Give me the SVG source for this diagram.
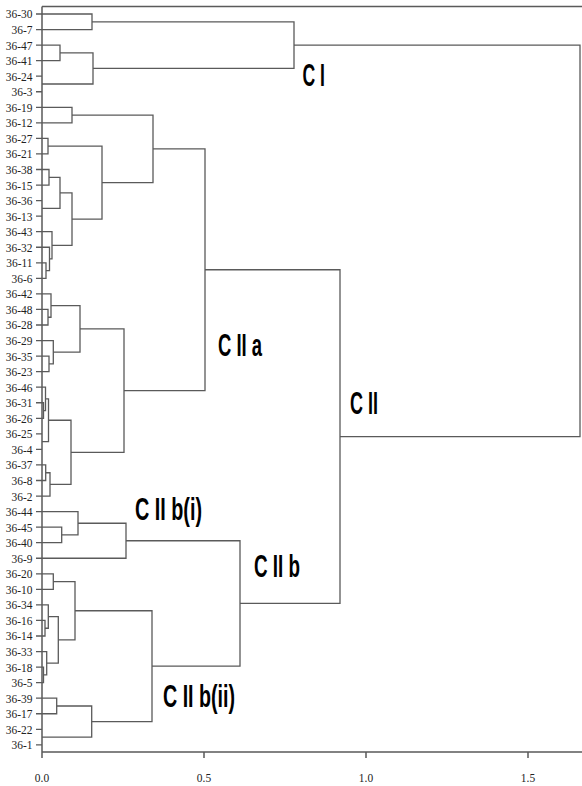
<svg xmlns="http://www.w3.org/2000/svg" width="582" height="786" viewBox="0 0 582 786">
<style>
.bg{fill:#fff}
.ln{fill:none;stroke:#5a5a5a;stroke-width:1.3}
.ax{fill:none;stroke:#5a5a5a;stroke-width:1.5}
.lf{font-family:"Liberation Serif","Times New Roman",serif;font-size:13px;fill:#222;text-anchor:end}
.tk{font-family:"Liberation Serif","Times New Roman",serif;font-size:13px;fill:#222;text-anchor:middle}
.cl{font-family:"Liberation Sans",Arial,sans-serif;font-weight:bold;font-size:31px;fill:#000}
</style>
<rect class="bg" x="0" y="0" width="582" height="786"/>
<g id="frame">
<path class="ax" d="M42 6.5 H582 M42 6.5 V752 M42 752 H582"/>
<path class="ax" d="M42 752 V758 M204 752 V758 M366 752 V758 M528 752 V758"/>
<g transform="translate(42 782) scale(0.88 1)"><text class="tk" x="0" y="0">0.0</text></g>
<g transform="translate(204 782) scale(0.88 1)"><text class="tk" x="0" y="0">0.5</text></g>
<g transform="translate(366 782) scale(0.88 1)"><text class="tk" x="0" y="0">1.0</text></g>
<g transform="translate(528 782) scale(0.88 1)"><text class="tk" x="0" y="0">1.5</text></g>
</g>
<g id="leaf-ticks">
<path class="ln" d="M36 14H42M36 29.55H42M36 45.1H42M36 60.65H42M36 76.2H42M36 91.75H42M36 107.3H42M36 122.85H42M36 138.4H42M36 153.95H42M36 169.5H42M36 185.05H42M36 200.6H42M36 216.15H42M36 231.7H42M36 247.25H42M36 262.8H42M36 278.35H42M36 293.9H42M36 309.45H42M36 325H42M36 340.55H42M36 356.1H42M36 371.65H42M36 387.2H42M36 402.75H42M36 418.3H42M36 433.85H42M36 449.4H42M36 464.95H42M36 480.5H42M36 496.05H42M36 511.6H42M36 527.15H42M36 542.7H42M36 558.25H42M36 573.8H42M36 589.35H42M36 604.9H42M36 620.45H42M36 636H42M36 651.55H42M36 667.1H42M36 682.65H42M36 698.2H42M36 713.75H42M36 729.3H42M36 744.85H42"/>
</g>
<g id="leaves" transform="translate(32.5 0) scale(0.88 1)">
<text id="l36-30" class="lf" x="0" y="18.5">36-30</text>
<text id="l36-7" class="lf" x="0" y="34.05">36-7</text>
<text id="l36-47" class="lf" x="0" y="49.6">36-47</text>
<text id="l36-41" class="lf" x="0" y="65.15">36-41</text>
<text id="l36-24" class="lf" x="0" y="80.7">36-24</text>
<text id="l36-3" class="lf" x="0" y="96.25">36-3</text>
<text id="l36-19" class="lf" x="0" y="111.8">36-19</text>
<text id="l36-12" class="lf" x="0" y="127.35">36-12</text>
<text id="l36-27" class="lf" x="0" y="142.9">36-27</text>
<text id="l36-21" class="lf" x="0" y="158.45">36-21</text>
<text id="l36-38" class="lf" x="0" y="174">36-38</text>
<text id="l36-15" class="lf" x="0" y="189.55">36-15</text>
<text id="l36-36" class="lf" x="0" y="205.1">36-36</text>
<text id="l36-13" class="lf" x="0" y="220.65">36-13</text>
<text id="l36-43" class="lf" x="0" y="236.2">36-43</text>
<text id="l36-32" class="lf" x="0" y="251.75">36-32</text>
<text id="l36-11" class="lf" x="0" y="267.3">36-11</text>
<text id="l36-6" class="lf" x="0" y="282.85">36-6</text>
<text id="l36-42" class="lf" x="0" y="298.4">36-42</text>
<text id="l36-48" class="lf" x="0" y="313.95">36-48</text>
<text id="l36-28" class="lf" x="0" y="329.5">36-28</text>
<text id="l36-29" class="lf" x="0" y="345.05">36-29</text>
<text id="l36-35" class="lf" x="0" y="360.6">36-35</text>
<text id="l36-23" class="lf" x="0" y="376.15">36-23</text>
<text id="l36-46" class="lf" x="0" y="391.7">36-46</text>
<text id="l36-31" class="lf" x="0" y="407.25">36-31</text>
<text id="l36-26" class="lf" x="0" y="422.8">36-26</text>
<text id="l36-25" class="lf" x="0" y="438.35">36-25</text>
<text id="l36-4" class="lf" x="0" y="453.9">36-4</text>
<text id="l36-37" class="lf" x="0" y="469.45">36-37</text>
<text id="l36-8" class="lf" x="0" y="485">36-8</text>
<text id="l36-2" class="lf" x="0" y="500.55">36-2</text>
<text id="l36-44" class="lf" x="0" y="516.1">36-44</text>
<text id="l36-45" class="lf" x="0" y="531.65">36-45</text>
<text id="l36-40" class="lf" x="0" y="547.2">36-40</text>
<text id="l36-9" class="lf" x="0" y="562.75">36-9</text>
<text id="l36-20" class="lf" x="0" y="578.3">36-20</text>
<text id="l36-10" class="lf" x="0" y="593.85">36-10</text>
<text id="l36-34" class="lf" x="0" y="609.4">36-34</text>
<text id="l36-16" class="lf" x="0" y="624.95">36-16</text>
<text id="l36-14" class="lf" x="0" y="640.5">36-14</text>
<text id="l36-33" class="lf" x="0" y="656.05">36-33</text>
<text id="l36-18" class="lf" x="0" y="671.6">36-18</text>
<text id="l36-5" class="lf" x="0" y="687.15">36-5</text>
<text id="l36-39" class="lf" x="0" y="702.7">36-39</text>
<text id="l36-17" class="lf" x="0" y="718.25">36-17</text>
<text id="l36-22" class="lf" x="0" y="733.8">36-22</text>
<text id="l36-1" class="lf" x="0" y="749.35">36-1</text>
</g>
<g id="connectors">
<path class="ln" d="M42 14 H92 V29.55 H42"/>
<path class="ln" d="M42 45.1 H60 V60.65 H42"/>
<path class="ln" d="M60 52.88 H93 V83.98 H42"/>
<path class="ln" d="M92 21.78 H294 V68.43 H93"/>
<path class="ln" d="M42 107.3 H72 V122.85 H42"/>
<path class="ln" d="M42 138.4 H48 V153.95 H42"/>
<path class="ln" d="M42 169.5 H49 V185.05 H42"/>
<path class="ln" d="M49 177.28 H60 V208.38 H42"/>
<path class="ln" d="M42 262.8 H46 V278.35 H42"/>
<path class="ln" d="M42 247.25 H49.5 V270.58 H46"/>
<path class="ln" d="M42 231.7 H52 V258.91 H49.5"/>
<path class="ln" d="M60 192.83 H72 V245.31 H52"/>
<path class="ln" d="M48 146.18 H102 V219.07 H72"/>
<path class="ln" d="M72 115.08 H153 V182.63 H102"/>
<path class="ln" d="M42 309.45 H48 V325 H42"/>
<path class="ln" d="M42 293.9 H51 V317.23 H48"/>
<path class="ln" d="M42 356.1 H49 V371.65 H42"/>
<path class="ln" d="M42 340.55 H53.3 V363.88 H49"/>
<path class="ln" d="M51 305.56 H80 V352.21 H53.3"/>
<path class="ln" d="M42 402.75 H43.5 V418.3 H42"/>
<path class="ln" d="M42 387.2 H45.5 V410.53 H43.5"/>
<path class="ln" d="M45.5 398.86 H48.5 V441.63 H42"/>
<path class="ln" d="M42 464.95 H45.7 V480.5 H42"/>
<path class="ln" d="M45.7 472.73 H50 V496.05 H42"/>
<path class="ln" d="M48.5 420.24 H71 V484.39 H50"/>
<path class="ln" d="M80 328.89 H124 V452.32 H71"/>
<path class="ln" d="M153 148.85 H205 V390.6 H124"/>
<path class="ln" d="M42 527.15 H61.7 V542.7 H42"/>
<path class="ln" d="M42 511.6 H78 V534.93 H61.7"/>
<path class="ln" d="M78 523.26 H126 V558.25 H42"/>
<path class="ln" d="M42 573.8 H53.3 V589.35 H42"/>
<path class="ln" d="M42 620.45 H45 V636 H42"/>
<path class="ln" d="M42 604.9 H48.3 V628.23 H45"/>
<path class="ln" d="M42 667.1 H43.5 V682.65 H42"/>
<path class="ln" d="M42 651.55 H46.7 V674.88 H43.5"/>
<path class="ln" d="M48.3 616.56 H58.3 V663.21 H46.7"/>
<path class="ln" d="M53.3 581.58 H75 V639.89 H58.3"/>
<path class="ln" d="M42 698.2 H56.7 V713.75 H42"/>
<path class="ln" d="M56.7 705.98 H91.7 V737.08 H42"/>
<path class="ln" d="M75 610.73 H152 V721.53 H91.7"/>
<path class="ln" d="M126 540.76 H240 V666.13 H152"/>
<path class="ln" d="M205 269.73 H340 V603.44 H240"/>
<path class="ln" d="M294 45.1 H580 V436.59 H340"/>
</g>
<g id="cluster-CI"><text class="cl" x="302.5" y="86" textLength="22.5" lengthAdjust="spacingAndGlyphs">C I</text></g>
<g id="cluster-CIIa"><text class="cl" x="218" y="356" textLength="44" lengthAdjust="spacingAndGlyphs">C II a</text></g>
<g id="cluster-CII"><text class="cl" x="350" y="414" textLength="28" lengthAdjust="spacingAndGlyphs">C II</text></g>
<g id="cluster-CIIbi"><text class="cl" x="135" y="520" textLength="67" lengthAdjust="spacingAndGlyphs">C II b(i)</text></g>
<g id="cluster-CIIb"><text class="cl" x="254" y="577" textLength="46" lengthAdjust="spacingAndGlyphs">C II b</text></g>
<g id="cluster-CIIbii"><text class="cl" x="163" y="707" textLength="72" lengthAdjust="spacingAndGlyphs">C II b(ii)</text></g>
</svg>
